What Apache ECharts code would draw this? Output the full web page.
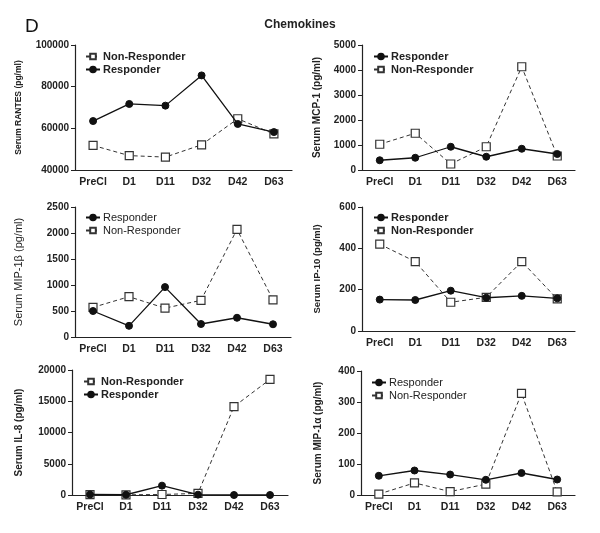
<!DOCTYPE html>
<html><head><meta charset="utf-8">
<script src="https://cdn.jsdelivr.net/npm/echarts@6/dist/echarts.min.js"></script>
<style>html,body{margin:0;padding:0;background:#fff}#c{width:600px;height:533px}</style>
</head><body><div id="c"></div>
<script>
const categories = ['PreCl','D1','D11','D32','D42','D63'];

const rantesResp = [63500, 71700, 70900, 85400, 62100, 58200];
const rantesNon  = [51800, 46900, 46200, 52100, 64600, 57300];
const rantesTicks = [40000, 100000, 20000];

const mcp1Resp = [390, 490, 930, 530, 850, 640];
const mcp1Non  = [1030, 1470, 240, 930, 4130, 560];
const mcp1Ticks = [0, 5000, 1000];

const mip1bResp = [500, 215, 960, 250, 370, 245];
const mip1bNon  = [570, 775, 555, 705, 2070, 715];
const mip1bTicks = [0, 2500, 500];

const ip10Resp = [152, 150, 195, 161, 170, 158];
const ip10Non  = [420, 336, 139, 163, 336, 155];
const ip10Ticks = [0, 600, 200];

const il8Resp = [80, 40, 1500, 60, 0, 0];
const il8Non  = [50, 30, 80, 260, 14150, 18500];
const il8Ticks = [0, 20000, 5000];

const mip1aResp = [62, 79, 66, 49, 71, 50];
const mip1aNon  = [3, 39, 11, 35, 328, 10];
const mip1aTicks = [0, 400, 100];

const panels = [
  {name:'Serum RANTES (pg/ml)', resp:rantesResp, non:rantesNon, ticks:rantesTicks, grid:{left:75, top:45, width:217, height:125}, nameGap:52, nameSize:8.5, nameBold:'bold', legendOrder:['Non-Responder','Responder'], legendBold:'bold', legendPos:{left:80, top:46}},
  {name:'Serum MCP-1 (pg/ml)', resp:mcp1Resp, non:mcp1Non, ticks:mcp1Ticks, grid:{left:362, top:45, width:213, height:125}, nameGap:40, nameSize:10, nameBold:'bold', legendOrder:['Responder','Non-Responder'], legendBold:'bold', legendPos:{left:368, top:46}},
  {name:'Serum MIP-1β (pg/ml)', resp:mip1bResp, non:mip1bNon, ticks:mip1bTicks, grid:{left:75, top:207, width:216, height:130}, nameGap:51, nameSize:11, nameBold:'normal', legendOrder:['Responder','Non-Responder'], legendBold:'normal', legendPos:{left:80, top:207}},
  {name:'Serum IP-10 (pg/ml)', resp:ip10Resp, non:ip10Non, ticks:ip10Ticks, grid:{left:362, top:207, width:213, height:124}, nameGap:40, nameSize:9.5, nameBold:'bold', legendOrder:['Responder','Non-Responder'], legendBold:'bold', legendPos:{left:368, top:207}},
  {name:'Serum IL-8 (pg/ml)', resp:il8Resp, non:il8Non, ticks:il8Ticks, grid:{left:72, top:370, width:216, height:125}, nameGap:48, nameSize:10, nameBold:'bold', legendOrder:['Non-Responder','Responder'], legendBold:'bold', legendPos:{left:78, top:371}},
  {name:'Serum MIP-1α (pg/ml)', resp:mip1aResp, non:mip1aNon, ticks:mip1aTicks, grid:{left:361, top:371, width:214, height:124}, nameGap:38, nameSize:10, nameBold:'bold', legendOrder:['Responder','Non-Responder'], legendBold:'normal', legendPos:{left:366, top:372}}
];

const grids=[], xAxes=[], yAxes=[], series=[], legends=[];
panels.forEach((p,i)=>{
  grids.push(Object.assign({containLabel:false}, p.grid));
  xAxes.push({type:'category', gridIndex:i, data:categories, boundaryGap:true,
    axisLine:{lineStyle:{color:'#222', width:1.2}},
    axisTick:{alignWithLabel:true, interval:0, length:3, lineStyle:{color:'#222'}},
    axisLabel:{interval:0, color:'#222', fontWeight:'bold', fontSize:10.5, fontFamily:'Liberation Sans, Arial', margin:7}});
  yAxes.push({type:'value', gridIndex:i, min:p.ticks[0], max:p.ticks[1], interval:p.ticks[2],
    name:p.name, nameLocation:'middle', nameGap:p.nameGap,
    nameTextStyle:{color:'#222', fontSize:p.nameSize, fontWeight:p.nameBold, fontFamily:'Liberation Sans, Arial'},
    splitLine:{show:false},
    axisLine:{show:true, lineStyle:{color:'#222', width:1.2}},
    axisTick:{show:true, length:4, lineStyle:{color:'#222'}},
    axisLabel:{formatter:v=>String(v), color:'#222', fontWeight:'bold', fontSize:10, fontFamily:'Liberation Sans, Arial', margin:6}});
  series.push({name:'Non-Responder', type:'line', xAxisIndex:i, yAxisIndex:i, data:p.non,
    symbol:'rect', symbolSize:8,
    lineStyle:{color:'#333', width:1, type:[4,3]},
    itemStyle:{color:'#fff', borderColor:'#333', borderWidth:1.2}, z:3});
  series.push({name:'Responder', type:'line', xAxisIndex:i, yAxisIndex:i, data:p.resp,
    symbol:'circle', symbolSize:7,
    lineStyle:{color:'#111', width:1.3, type:'solid'},
    itemStyle:{color:'#111', borderColor:'#111', borderWidth:1}, z:4});
  legends.push(Object.assign({orient:'vertical', data:p.legendOrder, itemWidth:14, itemHeight:7, itemGap:2,
    selectedMode:false,
    textStyle:{color:'#222', fontSize:11, fontWeight:p.legendBold, fontFamily:'Liberation Sans, Arial', padding:[0,0,0,-2]}}, p.legendPos));
});

const chart = echarts.init(document.getElementById('c'), null, {renderer:'canvas'});
chart.setOption({
  animation:false,
  backgroundColor:'#fff',
  title:[
    {text:'Chemokines', left:'center', top:14, textStyle:{fontSize:12, fontWeight:'bold', color:'#222', fontFamily:'Liberation Sans, Arial'}},
    {text:'D', left:20, top:12, textStyle:{fontSize:19, fontWeight:'normal', color:'#111', fontFamily:'Liberation Sans, Arial'}}
  ],
  legend:legends,
  grid:grids, xAxis:xAxes, yAxis:yAxes, series:series
});
</script></body></html>
